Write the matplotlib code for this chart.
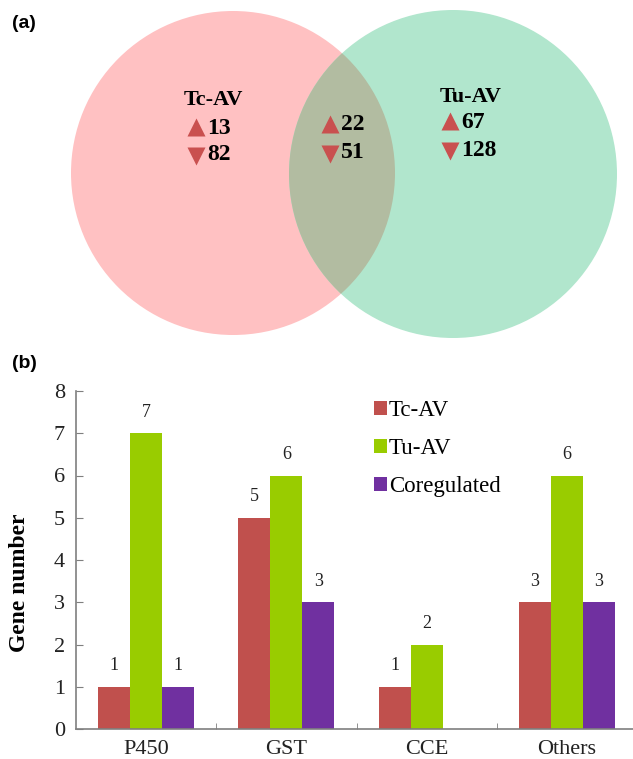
import numpy as np
import matplotlib.pyplot as plt
from matplotlib.patches import Circle

# ---- data ----
venn_sets = ['Tc-AV', '', 'Tu-AV']
venn_up = [13, 22, 67]
venn_down = [82, 51, 128]

categories = ['P450', 'GST', 'CCE', 'Others']
series_names = ['Tc-AV', 'Tu-AV', 'Coregulated']
tc_av = [1, 5, 1, 3]
tu_av = [7, 6, 2, 6]
coreg = [1, 3, 0, 3]
yticks = [0, 1, 2, 3, 4, 5, 6, 7, 8]

W, H = 633, 759
fig = plt.figure(figsize=(W / 100, H / 100), dpi=100)
serif = ['Liberation Serif', 'DejaVu Serif']
sans = ['Liberation Sans', 'DejaVu Sans']

# ---- (a) venn, drawn in pixel coords ----
top_h = 350
axv = fig.add_axes([0, 1 - top_h / H, 1, top_h / H])
axv.set_xlim(0, W)
axv.set_ylim(top_h, 0)
axv.axis('off')

c_left = Circle((233, 173), 162, facecolor='#ffc1c2', edgecolor='none', zorder=1)
c_right = Circle((453, 174), 164, facecolor='#b1e6cd', edgecolor='none', zorder=2)
c_mid = Circle((233, 173), 162, facecolor='#b2bca1', edgecolor='none', zorder=3)
axv.add_patch(c_left)
axv.add_patch(c_right)
axv.add_patch(c_mid)
c_mid.set_clip_path(c_right)

tri_col = '#c9504f'
label_xy = [(213, 100), None, (471, 97)]
num_x = [196, 330, 450]
up_y = [128, 125, 122]
down_y = [155, 153, 150]
for i in range(3):
    if label_xy[i] is not None:
        axv.text(label_xy[i][0], label_xy[i][1], venn_sets[i], ha='center', va='center',
                 fontsize=16, fontweight='bold', family=serif, zorder=5)
    axv.plot(num_x[i], up_y[i] - 1, marker='^', ms=13, color=tri_col, mec='none', zorder=5)
    axv.plot(num_x[i], down_y[i] + 1, marker='v', ms=13, color=tri_col, mec='none', zorder=5)
    axv.text(num_x[i] + 11, up_y[i], str(venn_up[i]), ha='left', va='center',
             fontsize=17, fontweight='bold', family=serif, zorder=5)
    axv.text(num_x[i] + 11, down_y[i], str(venn_down[i]), ha='left', va='center',
             fontsize=17, fontweight='bold', family=serif, zorder=5)

fig.text(12 / W, 1 - 23 / H, '(a)', fontsize=14, fontweight='bold', family=sans,
         ha='left', va='center')
fig.text(12 / W, 1 - 364 / H, '(b)', fontsize=14, fontweight='bold', family=sans,
         ha='left', va='center')

# ---- (b) bar chart ----
ax_left, ax_bottom, ax_top = 76, 729, 391
ax = fig.add_axes([ax_left / W, (H - ax_bottom) / H, 1 - ax_left / W, (ax_bottom - ax_top) / H])

x = np.arange(len(categories))
bw = 0.228
cols = ['#c0504d', '#99cc00', '#7030a0']
data = [tc_av, tu_av, coreg]
for k in range(3):
    vals = np.array(data[k])
    pos = x + (k - 1) * bw
    ax.bar(pos, vals, bw, color=cols[k], label=series_names[k], zorder=2)
    for p, v in zip(pos, vals):
        if v > 0:
            ax.annotate(str(v), (p, v), xytext=(0, 15), textcoords='offset points',
                        ha='center', va='center', fontsize=13, family=serif, color='#222222')

ax.set_xlim(-0.5, 3.47)
ax.set_ylim(0, 8)
ax.set_yticks(yticks)
ax.set_xticks(x)
ax.set_xticklabels(categories)
ax.set_xticks([0.5, 1.5, 2.5], minor=True)
for s in ['top', 'right']:
    ax.spines[s].set_visible(False)
for s in ['left', 'bottom']:
    ax.spines[s].set_color('#7f7f7f')
    ax.spines[s].set_linewidth(1.2)
ax.tick_params(axis='y', direction='in', length=5, color='#7f7f7f', labelsize=16, pad=8)
ax.tick_params(axis='x', which='major', length=0, labelsize=16, pad=8)
ax.tick_params(axis='x', which='minor', direction='in', length=4, color='#7f7f7f')
for t in ax.get_xticklabels() + ax.get_yticklabels():
    t.set_family(serif)
    t.set_color('#222222')

fig.text(20 / W, 1 - 583 / H, 'Gene number', rotation=90, ha='center', va='center',
         fontsize=17, fontweight='bold', family=serif)

leg = ax.legend(loc='upper left', bbox_to_anchor=(374 / W, 1 - 400 / H),
                bbox_transform=fig.transFigure, frameon=False, prop={'family': serif, 'size': 16.5},
                handlelength=0.55, handleheight=0.55, handletextpad=0.1, labelspacing=0.75,
                borderpad=0, borderaxespad=0)

fig.savefig('out.png', dpi=100)
